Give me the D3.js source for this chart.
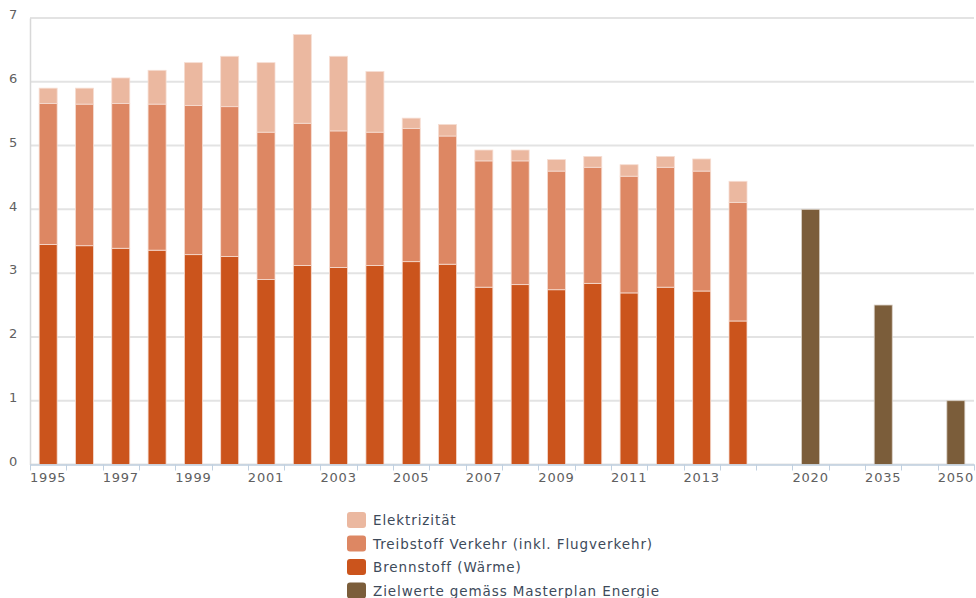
<!DOCTYPE html>
<html>
<head>
<meta charset="utf-8">
<script src="https://cdn.jsdelivr.net/npm/d3@7"></script>
<style>
  body { margin: 0; background: #fff; }
  svg { font-family: "DejaVu Sans", Verdana, sans-serif; }
  .legendlabel { fill: #3d4a5a; font-size: 13.5px; letter-spacing: 0.9px; }
</style>
</head>
<body>
<div id="chart"></div>
<script>
// categories (empty strings are spacer slots between the target years)
const categories = ['1995','1996','1997','1998','1999','2000','2001','2002','2003','2004',
  '2005','2006','2007','2008','2009','2010','2011','2012','2013','2014','',
  '2020','','2035','','2050'];
const shownLabels = ['1995','1997','1999','2001','2003','2005','2007','2009','2011','2013','2020','2035','2050'];

// values (t per person)
const brennstoff = [3.45,3.43,3.39,3.36,3.29,3.26,2.90,3.12,3.09,3.12,
  3.18,3.14,2.78,2.82,2.74,2.84,2.69,2.78,2.72,2.25];
const treibstoff = [2.21,2.22,2.27,2.29,2.34,2.35,2.31,2.23,2.14,2.09,
  2.09,2.01,1.98,1.94,1.86,1.82,1.83,1.88,1.88,1.86];
const elektrizitaet = [0.24,0.25,0.40,0.53,0.67,0.79,1.09,1.39,1.17,0.95,
  0.16,0.18,0.17,0.17,0.18,0.17,0.18,0.17,0.19,0.33];
const zielYears = ['2020','2035','2050'];
const zielwerte = [4.0, 2.5, 1.0];

const yTicks = [0,1,2,3,4,5,6,7];

const seriesNames = ['Elektrizität','Treibstoff Verkehr (inkl. Flugverkehr)','Brennstoff (Wärme)','Zielwerte gemäss Masterplan Energie'];
const colors = ['#ebb8a0','#dd8763','#cb541c','#7b5d3a'];

const width = 976, height = 598;
const margin = ({top: 18, right: 2, bottom: 134, left: 30});

const svg = d3.select('#chart').append('svg')
  .attr('width', width).attr('height', height);

let x = d3.scaleBand()
  .domain(d3.range(categories.length))
  .range([margin.left, width - margin.right]);
let y = d3.scaleLinear()
  .domain([0, 7])
  .range([height - margin.bottom + 0.5, margin.top]);

// grid lines
svg.append('g')
  .selectAll('line')
  .data(yTicks)
  .join('line')
    .attr('x1', margin.left).attr('x2', width - margin.right)
    .attr('y1', d => y(d)).attr('y2', d => y(d))
    .attr('stroke', '#e3e3e3').attr('stroke-width', 2);

function labelStyle(sel) {
  sel.attr('fill', '#606060')
    .style('font-size', '13px')
    .style('letter-spacing', '0.8px')
    .style('font-family', '"DejaVu Sans", Verdana, sans-serif');
}

// y axis
let yAxis = d3.axisLeft(y).tickValues(yTicks).tickFormat(d3.format('d')).tickSize(0).tickPadding(12);
svg.append('g')
  .attr('transform', `translate(${margin.left},0)`)
  .call(yAxis)
  .call(g => g.select('.domain').attr('stroke', '#d8d8d8').attr('stroke-width', 1.5))
  .call(g => g.selectAll('.tick text').attr('text-anchor', 'end').attr('dy', '0.05em').call(labelStyle));

// stacked bars
let stackData = categories.slice(0, 20).map((c, i) => ({
  i: i, brennstoff: brennstoff[i], treibstoff: treibstoff[i], elektrizitaet: elektrizitaet[i]
}));
let stack = d3.stack().keys(['brennstoff','treibstoff','elektrizitaet'])(stackData);
let stackColors = {brennstoff: colors[2], treibstoff: colors[1], elektrizitaet: colors[0]};

let barW = 18;
svg.append('g').selectAll('g')
  .data(stack)
  .join('g')
    .attr('fill', d => stackColors[d.key])
  .selectAll('rect')
  .data(d => d)
  .join('rect')
    .attr('x', d => x(d.data.i) + x.bandwidth()/2 - barW/2)
    .attr('y', d => y(d[1]))
    .attr('width', barW)
    .attr('height', d => y(d[0]) - y(d[1]))
    .attr('stroke', '#f6ddd2').attr('stroke-width', 0.8);

// target bars
svg.append('g').selectAll('rect')
  .data(zielwerte)
  .join('rect')
    .attr('x', (d, i) => x(categories.indexOf(zielYears[i])) + x.bandwidth()/2 - barW/2)
    .attr('y', d => y(d))
    .attr('width', barW)
    .attr('height', d => y(0) - y(d))
    .attr('fill', colors[3])
    .attr('stroke', '#d8cfc4').attr('stroke-width', 0.8);

// x axis
let xAxis = d3.axisBottom(x)
  .tickFormat(i => shownLabels.includes(categories[i]) ? categories[i] : '')
  .tickSize(0).tickPadding(8);
let xg = svg.append('g')
  .attr('transform', `translate(0,${y(0)})`)
  .call(xAxis);
xg.select('.domain').attr('stroke', '#c0d0e0').attr('stroke-width', 1.5);
xg.selectAll('.tick text').attr('dy', '0.75em').call(labelStyle);
// ticks on category boundaries
xg.append('g').selectAll('line')
  .data(d3.range(categories.length + 1))
  .join('line')
    .attr('x1', i => Math.round(margin.left + i * x.step()) + 0.5)
    .attr('x2', i => Math.round(margin.left + i * x.step()) + 0.5)
    .attr('y1', 0).attr('y2', 6)
    .attr('stroke', '#c0d0e0');

// legend
let legend = svg.append('g')
  .attr('transform', 'translate(347,512)');
let item = legend.selectAll('g')
  .data(seriesNames)
  .join('g')
    .attr('transform', (d, i) => `translate(0,${i * 23.5})`);
item.append('rect')
  .attr('width', 19).attr('height', 16).attr('rx', 3)
  .attr('fill', (d, i) => colors[i]);
item.append('text')
  .attr('class', 'legendlabel')
  .attr('x', 26).attr('y', 13)
  .text(d => d);
</script>
</body>
</html>
